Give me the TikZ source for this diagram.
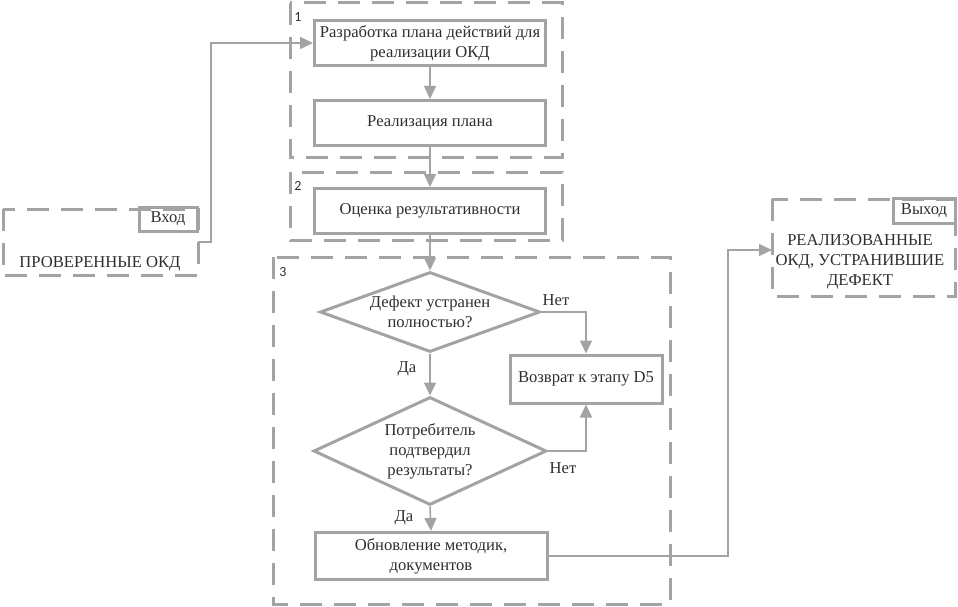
\documentclass[tikz,border=0pt]{standalone}
\usepackage{fontspec}
\setmainfont{Liberation Serif}
\newfontfamily\numfont{Carlito}
\usetikzlibrary{arrows.meta,shapes.geometric}
\definecolor{lg}{HTML}{A3A3A3}
\definecolor{tx}{HTML}{2E2E2E}
\tikzset{
  frame/.style={draw=lg, line width=3pt, dash pattern=on 22pt off 12pt},
  stepbox/.style={draw=lg, line width=3pt, minimum width=231pt, minimum height=45pt, inner sep=0pt, align=center, text=tx, font=\rmfamily\fontsize{16.6}{20}\selectfont},
  dia/.style={draw=lg, line width=3pt, diamond, inner sep=0pt},
  txt/.style={text=tx, align=center, font=\rmfamily\fontsize{16.6}{20}\selectfont, inner sep=0pt},
  lbl/.style={text=tx, font=\rmfamily\fontsize{16.6}{18}\selectfont, inner sep=0pt},
  num/.style={text=tx, font=\numfont\fontsize{14}{15}\selectfont, inner sep=0pt},
  conn/.style={draw=lg, line width=1.6pt, -{Triangle[length=13pt,width=12pt]}},
}
\begin{document}
\begin{tikzpicture}[x=1pt,y=-1pt]
\useasboundingbox (0,0) rectangle (958,607);
% dashed frames
\draw[frame] (290,3) rectangle (562,157);
\draw[frame] (290,172) rectangle (562,240);
\draw[frame] (273,257) rectangle (670,604);
\draw[frame] (3,209) rectangle (198,275);
\draw[frame] (772,199) rectangle (955,296);
\node[num] (n1) at (298,17) {1};
\node[num] (n2) at (298,186) {2};
\node[num] (n3) at (283,272) {3};
% input / output
\node[draw=lg, line width=3pt, minimum width=58pt, minimum height=24pt, inner sep=0pt, text=tx, font=\rmfamily\fontsize{16.6}{18}\selectfont] (vin) at (168,219) {Вход};
\node[txt] (inp) at (100,264) {ПРОВЕРЕННЫЕ ОКД};
\node[draw=lg, line width=3pt, minimum width=62pt, minimum height=25pt, inner sep=0pt, text=tx, font=\rmfamily\fontsize{16.6}{18}\selectfont] (vout) at (924,211) {Выход};
\node[txt] (outp) at (860,262) {РЕАЛИЗОВАННЫЕ\\ОКД, УСТРАНИВШИЕ\\ДЕФЕКТ};
\coordinate (inR) at (198,242);
\coordinate (outL) at (772,250);
% steps
\node[stepbox] (b1) at (430,43) {Разработка плана действий для\\реализации ОКД};
\node[stepbox] (b2) at (430,123) {Реализация плана};
\node[stepbox] (b3) at (430,211) {Оценка результативности};
\node[dia, minimum width=220pt, minimum height=80pt] (d1) at (430,312) {};
\node[txt] (t1) at (d1) {Дефект устранен\\полностью?};
\node[stepbox, minimum width=152pt, minimum height=48pt] (b4) at (586,379) {Возврат к этапу D5};
\node[dia, minimum width=233pt, minimum height=108pt] (d2) at (430,451) {};
\node[txt] (t2) at (d2) {Потребитель\\подтвердил\\результаты?};
\node[stepbox, minimum width=232pt, minimum height=47pt] (b5) at (431,556) {Обновление методик,\\документов};
% connectors
\draw[conn] (inR) -- (211,242) |- (b1.west);
\draw[conn] (b1) -- (b2);
\draw[conn] (b2) -- (b3);
\draw[conn] (b3) -- (d1.north);
\draw[conn] (d1.east) -| (b4.north);
\draw[conn] (d1.south) -- (d2.north);
\draw[conn] (d2.east) -| (b4.south);
\draw[conn] (d2.south) -- (b5.north);
\draw[conn] (b5.east) -- (728,556) |- (outL);
\node[lbl] (no1) at (556,300) {Нет};
\node[lbl] (yes1) at (407,369) {Да};
\node[lbl] (no2) at (563,468) {Нет};
\node[lbl] (yes2) at (404,518) {Да};
\end{tikzpicture}
\end{document}
